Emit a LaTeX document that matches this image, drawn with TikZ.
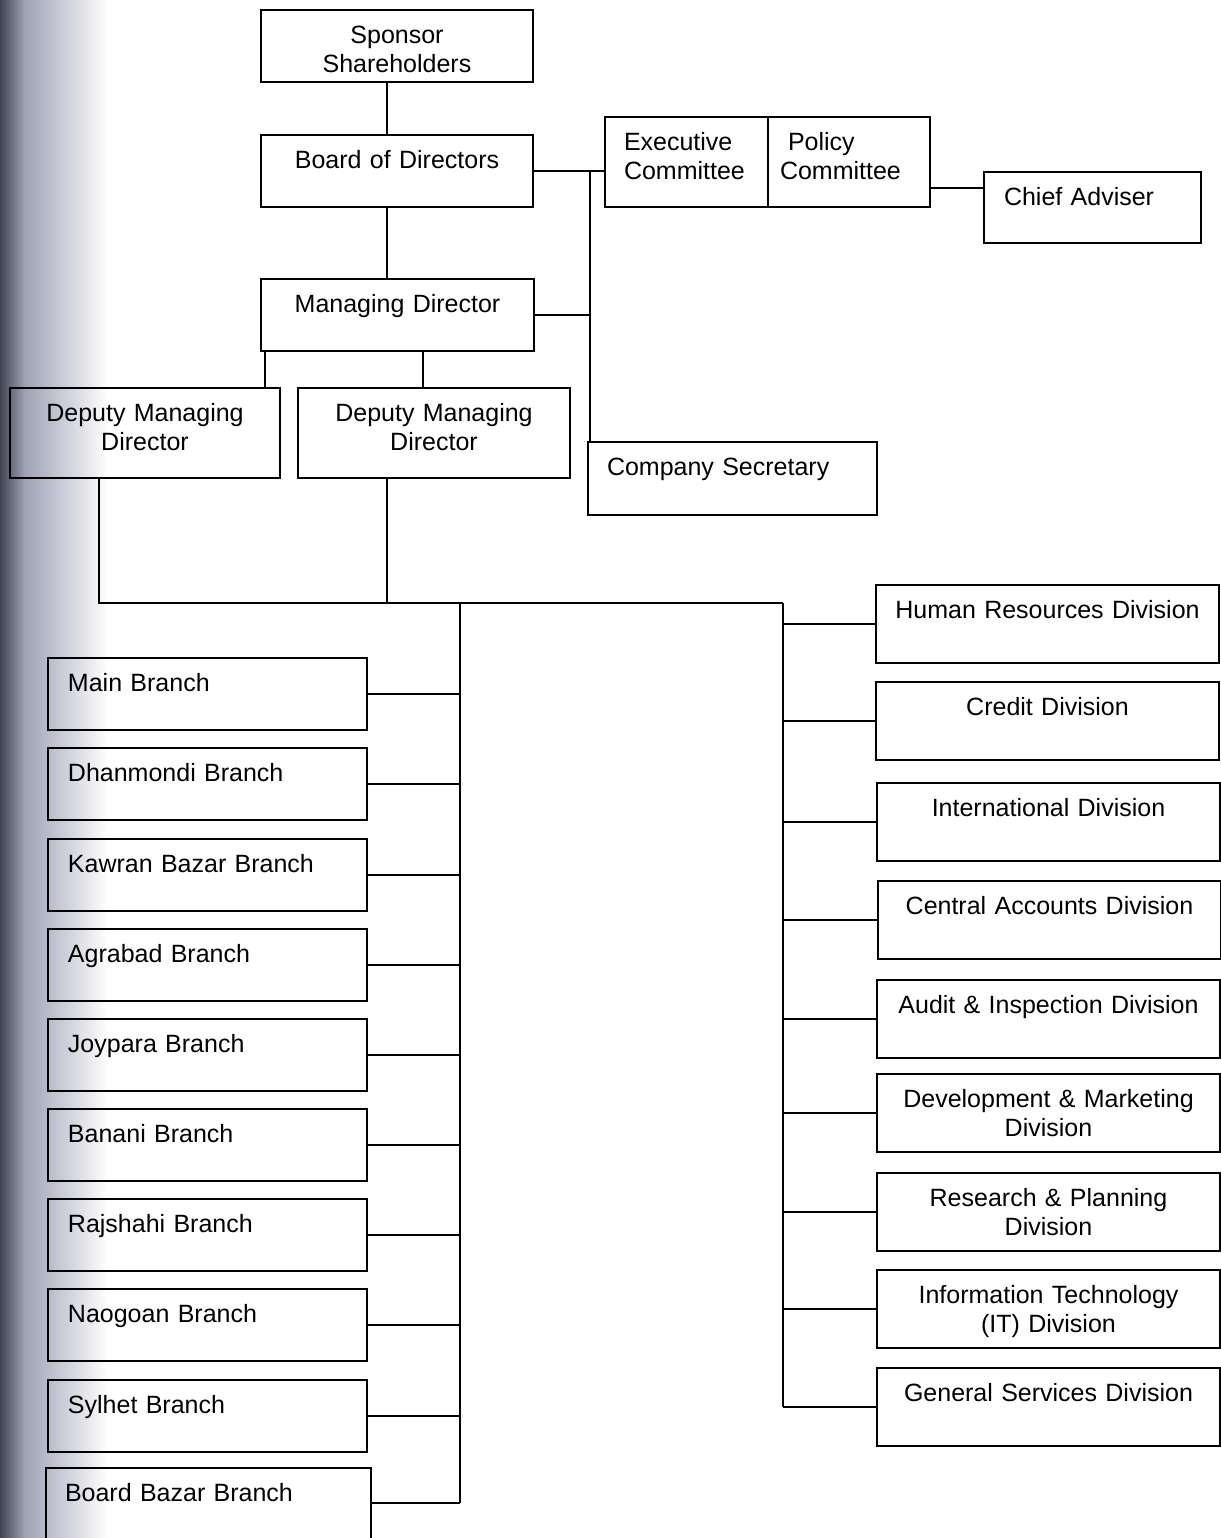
\documentclass[tikz,border=0pt]{standalone}
\usepackage{fontspec}
\setmainfont{Liberation Sans}
\definecolor{scanedge}{RGB}{66,68,82}
\definecolor{scanmid}{RGB}{158,162,180}
\tikzset{
  orgbox/.style={draw, line width=1pt, anchor=north west, inner ysep=0pt, text height=16.75pt, font=\fontsize{12.5pt}{14.3pt}\selectfont},
  midbox/.style={orgbox, align=center, inner xsep=3pt, text width=#1},
  leftbox/.style={orgbox, align=left, inner xsep=10pt, text width=#1},
  rowbox/.style={text depth=19.25pt},
  deepbox/.style={text depth=28.25pt},
  branchbox/.style={leftbox=139.5pt, rowbox},
  divbox/.style={midbox=165.5pt, text depth=22.25pt},
  link/.style={line width=0.9pt}
}

\begin{document}
\begin{tikzpicture}[x=0.5pt, y=-0.5pt]
\useasboundingbox (0,0) rectangle (1221,1538);
\clip (0,0) rectangle (1221,1538);
\shade[left color=scanedge, right color=scanmid] (0,0) rectangle (25,1538);
\shade[left color=scanmid, right color=white] (24,0) rectangle (108,1538);

\coordinate (trunk) at (387,0);
\coordinate (sidebus) at (590,0);
\coordinate (dmdleftlink) at (265,0);
\coordinate (dmdrightlink) at (423,0);
\coordinate (leftdrop) at (99,0);
\coordinate (busrow) at (0,603);
\coordinate (branchbus) at (460,0);
\coordinate (divbus) at (783,0);
\coordinate (adviserlink) at (0,188);
\coordinate (bazarlink) at (0,1503);

\node[midbox=130pt, rowbox] (sponsor) at (260,9) {Sponsor\\Shareholders};
\node[midbox=130pt, rowbox] (board) at (260,134) {Board of Directors};
\node[midbox=130.5pt, rowbox] (md) at (260,278) {Managing Director};
\node[midbox=129pt, deepbox] (dmdone) at (9,387) {Deputy Managing\\Director};
\node[midbox=130pt, deepbox] (dmdtwo) at (297,387) {Deputy Managing\\Director};
\node[leftbox=62.5pt, inner xsep=9.5pt, deepbox] (exec) at (604,116) {Executive\\Committee};
\node[leftbox=69pt, inner xsep=6pt, deepbox] (policy) at (767,116) {\hspace*{4pt}Policy\\Committee};
\node[leftbox=88.5pt, text depth=18.75pt] (adviser) at (983,171) {Chief Adviser};
\node[leftbox=125.5pt, inner xsep=9.5pt, text depth=19.75pt] (secretary) at (587,441) {Company Secretary};

\node[branchbox] (mainbr) at (47,657) {Main Branch};
\node[branchbox] (dhanmondi) at (47,747) {Dhanmondi Branch};
\node[branchbox] (kawran) at (47,838) {Kawran Bazar Branch};
\node[branchbox] (agrabad) at (47,928) {Agrabad Branch};
\node[branchbox] (joypara) at (47,1018) {Joypara Branch};
\node[branchbox] (banani) at (47,1108) {Banani Branch};
\node[branchbox] (rajshahi) at (47,1198) {Rajshahi Branch};
\node[branchbox] (naogoan) at (47,1288) {Naogoan Branch};
\node[branchbox] (sylhet) at (47,1379) {Sylhet Branch};
\node[leftbox=143.5pt, inner xsep=9.5pt, deepbox] (boardbazar) at (45,1467) {Board Bazar Branch};

\node[divbox] (hrdiv) at (875,584) {Human Resources Division};
\node[divbox] (creditdiv) at (875,681) {Credit Division};
\node[divbox] (intldiv) at (876,782) {International Division};
\node[divbox] (accountsdiv) at (877,880) {Central Accounts Division};
\node[divbox] (auditdiv) at (876,979) {Audit \& Inspection Division};
\node[divbox] (devdiv) at (876,1073) {Development \& Marketing\\Division};
\node[divbox] (researchdiv) at (876,1172) {Research \& Planning\\Division};
\node[divbox] (itdiv) at (876,1269) {Information Technology\\(IT) Division};
\node[divbox] (gsdiv) at (876,1367) {General Services Division};

\draw[link] (sponsor.south -| trunk) -- (board.north -| trunk);
\draw[link] (board.south -| trunk) -- (md.north -| trunk);
\draw[link] (board.east) -- (board.east -| exec.west);
\draw[link] (board.east -| sidebus) -- (secretary.north -| sidebus);
\draw[link] (md.east) -- (md.east -| sidebus);
\draw[link] (adviserlink -| policy.east) -- (adviserlink -| adviser.west);
\draw[link] (md.south -| dmdleftlink) -- (dmdone.north -| dmdleftlink);
\draw[link] (md.south -| dmdrightlink) -- (dmdtwo.north -| dmdrightlink);
\draw[link] (dmdone.south -| leftdrop) |- (busrow -| divbus);
\draw[link] (dmdtwo.south -| trunk) -- (busrow -| trunk);

\draw[link] (busrow -| branchbus) -- (bazarlink -| branchbus);
\draw[link] (mainbr.east) -- (mainbr.east -| branchbus);
\draw[link] (dhanmondi.east) -- (dhanmondi.east -| branchbus);
\draw[link] (kawran.east) -- (kawran.east -| branchbus);
\draw[link] (agrabad.east) -- (agrabad.east -| branchbus);
\draw[link] (joypara.east) -- (joypara.east -| branchbus);
\draw[link] (banani.east) -- (banani.east -| branchbus);
\draw[link] (rajshahi.east) -- (rajshahi.east -| branchbus);
\draw[link] (naogoan.east) -- (naogoan.east -| branchbus);
\draw[link] (sylhet.east) -- (sylhet.east -| branchbus);
\draw[link] (bazarlink -| boardbazar.east) -- (bazarlink -| branchbus);

\draw[link] (busrow -| divbus) -- (gsdiv.west -| divbus);
\draw[link] (hrdiv.west) -- (hrdiv.west -| divbus);
\draw[link] (creditdiv.west) -- (creditdiv.west -| divbus);
\draw[link] (intldiv.west) -- (intldiv.west -| divbus);
\draw[link] (accountsdiv.west) -- (accountsdiv.west -| divbus);
\draw[link] (auditdiv.west) -- (auditdiv.west -| divbus);
\draw[link] (devdiv.west) -- (devdiv.west -| divbus);
\draw[link] (researchdiv.west) -- (researchdiv.west -| divbus);
\draw[link] (itdiv.west) -- (itdiv.west -| divbus);
\draw[link] (gsdiv.west) -- (gsdiv.west -| divbus);
\end{tikzpicture}
\end{document}
